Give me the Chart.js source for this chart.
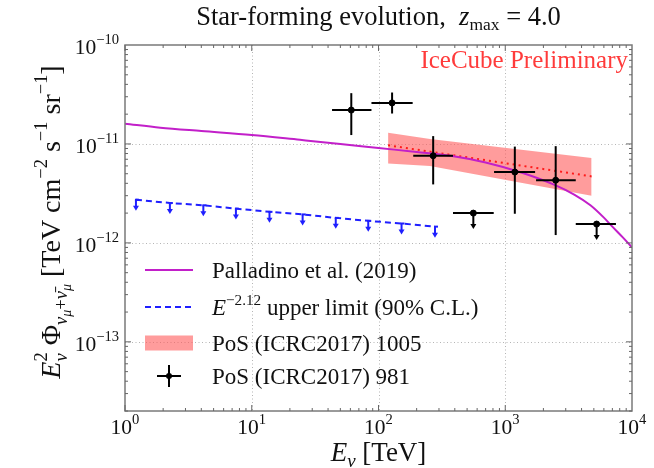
<!DOCTYPE html>
<html>
<head>
<meta charset="utf-8">
<script src="https://cdn.jsdelivr.net/npm/chart.js@4.4.1/dist/chart.umd.min.js"></script>
<style>
  html, body { margin: 0; padding: 0; background: #fff; }
</style>
</head>
<body>
<canvas id="myChart" width="654" height="468"></canvas>
<script>
// Palladino et al. (2019), star-forming evolution
const palE = [1, 1.9, 4, 10, 24, 50, 100, 200, 370, 700, 1300, 2400, 3500, 4700, 6000, 7000, 8500, 10000];
const palFlux = [1.6e-11, 1.46e-11, 1.35e-11, 1.23e-11, 1.1e-11, 1.0e-11, 9.1e-12, 8.3e-12, 7.6e-12, 6.5e-12, 5.2e-12, 3.9e-12, 3.08e-12, 2.4e-12, 1.8e-12, 1.46e-12, 1.13e-12, 9.0e-13];

// E^-2.12 upper limit (90% C.L.)
const ulE = [1.22, 2.26, 4.15, 7.5, 13.8, 25.2, 46, 83, 152, 279];
const ulFlux = [2.73e-12, 2.53e-12, 2.40e-12, 2.22e-12, 2.06e-12, 1.94e-12, 1.79e-12, 1.67e-12, 1.57e-12, 1.46e-12];

// PoS (ICRC2017) 1005 band and best fit
const bandE = [119, 255, 4800];
const bandHi = [1.3e-11, 1.12e-11, 7.2e-12];
const bandLo = [6.35e-12, 6.0e-12, 3.0e-12];
const fitE = [119, 4800];
const fitFlux = [9.7e-12, 4.7e-12];

// PoS (ICRC2017) 981 points
const ptE = [61, 128, 270, 560, 1190, 2500, 5260];
const ptELo = [43, 88, 188, 387, 816, 1750, 3600];
const ptEHi = [88, 186, 387, 811, 1720, 3600, 7470];
const ptFlux = [2.2e-11, 2.6e-11, 7.6e-12, 2.0e-12, 5.2e-12, 4.3e-12, 1.55e-12];
const ptFluxLo = [1.23e-11, 2.03e-11, 3.9e-12, null, 1.97e-12, 1.2e-12, null];
const ptFluxHi = [3.26e-11, 3.31e-11, 1.2e-11, null, 9.4e-12, 9.5e-12, null];
const ptUpper = [false, false, false, true, false, false, true];

// axes
const xTicks = [1, 10, 100, 1000, 10000];
const xTickExp = ['0', '1', '2', '3', '4'];
const yTicks = [1e-13, 1e-12, 1e-11, 1e-10];
const yTickExp = ['\u221213', '\u221212', '\u221211', '\u221210'];

const SERIF = '"Liberation Serif", "DejaVu Serif", serif';
const MAGENTA = '#c21fc9';
const BLUE = '#1f1fff';
const RED = '#ff1a1a';

function pts(xs, ys) {
    return xs.map((x, i) => ({x: x, y: ys[i]}));
}

// text with super/subscripts: {t, s: scale, r: rise (fraction of size), i: italic, k: stack on previous}
function richWidth(ctx, parts, size) {
    let x = 0, prev = 0;
    const items = parts.map(p => {
        const fs = size * (p.s || 1);
        ctx.font = (p.i ? 'italic ' : '') + fs + 'px ' + SERIF;
        const w = ctx.measureText(p.t).width;
        const px = p.k ? prev : x;
        prev = px;
        x = Math.max(x, px + w);
        return {p: p, fs: fs, px: px};
    });
    return {items: items, width: x};
}

function drawRich(ctx, parts, x, y, size, align, color) {
    const lay = richWidth(ctx, parts, size);
    let x0 = x;
    if (align === 'center') x0 = x - lay.width / 2;
    if (align === 'right') x0 = x - lay.width;
    ctx.fillStyle = color || '#111';
    ctx.textBaseline = 'alphabetic';
    ctx.textAlign = 'left';
    lay.items.forEach(it => {
        ctx.font = (it.p.i ? 'italic ' : '') + it.fs + 'px ' + SERIF;
        ctx.fillText(it.p.t, x0 + it.px, y - (it.p.r || 0) * size);
    });
}

function arrowDown(ctx, px, py, len, color) {
    ctx.strokeStyle = color;
    ctx.fillStyle = color;
    ctx.beginPath();
    ctx.moveTo(px, py);
    ctx.lineTo(px, py + len - 3);
    ctx.stroke();
    ctx.beginPath();
    ctx.moveTo(px - 3, py + len - 4);
    ctx.lineTo(px + 3, py + len - 4);
    ctx.lineTo(px, py + len + 1);
    ctx.closePath();
    ctx.fill();
}

const axesPlugin = {
    id: 'axesPlugin',
    beforeDatasetsDraw(chart) {
        const {ctx, chartArea: a, scales: {x, y}} = chart;
        ctx.save();
        ctx.strokeStyle = '#b5b5b5';
        ctx.lineWidth = 1;
        ctx.setLineDash([1, 2.5]);
        xTicks.slice(1, -1).forEach(v => {
            const px = Math.round(x.getPixelForValue(v)) + 0.5;
            ctx.beginPath(); ctx.moveTo(px, a.top); ctx.lineTo(px, a.bottom); ctx.stroke();
        });
        yTicks.slice(0, -1).forEach(v => {
            const py = Math.round(y.getPixelForValue(v)) + 0.5;
            ctx.beginPath(); ctx.moveTo(a.left, py); ctx.lineTo(a.right, py); ctx.stroke();
        });
        ctx.restore();
    },
    afterDatasetsDraw(chart) {
        const {ctx, scales: {x, y}} = chart;
        ctx.save();
        // error bars of ICRC2017 981
        ctx.lineWidth = 2;
        ctx.strokeStyle = '#000';
        ptE.forEach((e, i) => {
            const px = x.getPixelForValue(e);
            const py = y.getPixelForValue(ptFlux[i]);
            ctx.beginPath();
            ctx.moveTo(x.getPixelForValue(ptELo[i]), py);
            ctx.lineTo(x.getPixelForValue(ptEHi[i]), py);
            ctx.stroke();
            if (ptUpper[i]) {
                arrowDown(ctx, px, py, 15, '#000');
            } else {
                ctx.beginPath();
                ctx.moveTo(px, y.getPixelForValue(ptFluxHi[i]));
                ctx.lineTo(px, y.getPixelForValue(ptFluxLo[i]));
                ctx.stroke();
            }
        });
        // upper limit arrows
        ctx.lineWidth = 2;
        ulE.forEach((e, i) => {
            const px = x.getPixelForValue(e);
            const py = y.getPixelForValue(ulFlux[i]);
            ctx.strokeStyle = BLUE;
            ctx.beginPath(); ctx.moveTo(px - 1, py); ctx.lineTo(px + 3, py); ctx.stroke();
            arrowDown(ctx, px, py, 10, BLUE);
        });
        ctx.restore();
    },
    afterDraw(chart) {
        const {ctx, chartArea: a, scales: {x, y}} = chart;
        ctx.save();
        // frame
        ctx.strokeStyle = '#7a7a7a';
        ctx.lineWidth = 1.5;
        ctx.strokeRect(a.left, a.top, a.right - a.left, a.bottom - a.top);
        // tick marks, inward on all sides
        ctx.lineWidth = 1;
        ctx.strokeStyle = '#666';
        for (let d = 0; d < 4; d++) {
            for (let m = 1; m <= 9; m++) {
                const px = x.getPixelForValue(m * Math.pow(10, d));
                const len = m === 1 ? 6 : 3;
                ctx.beginPath();
                ctx.moveTo(px, a.bottom); ctx.lineTo(px, a.bottom - len);
                ctx.moveTo(px, a.top); ctx.lineTo(px, a.top + len);
                ctx.stroke();
            }
        }
        for (let d = -14; d < -10; d++) {
            for (let m = 1; m <= 9; m++) {
                const v = m * Math.pow(10, d);
                if (v < y.min) continue;
                const py = y.getPixelForValue(v);
                const len = m === 1 ? 6 : 3;
                ctx.beginPath();
                ctx.moveTo(a.left, py); ctx.lineTo(a.left + len, py);
                ctx.moveTo(a.right, py); ctx.lineTo(a.right - len, py);
                ctx.stroke();
            }
        }
        // tick labels
        xTicks.forEach((v, i) => {
            drawRich(ctx, [{t: '10'}, {t: xTickExp[i], s: 0.68, r: 0.45}], x.getPixelForValue(v), a.bottom + 23, 21.5, 'center');
        });
        yTicks.forEach((v, i) => {
            drawRich(ctx, [{t: '10'}, {t: yTickExp[i], s: 0.68, r: 0.45}], a.left - 6, y.getPixelForValue(v) + 9, 21.5, 'right');
        });
        // axis titles
        drawRich(ctx, [{t: 'E', i: true}, {t: '\u03bd', i: true, s: 0.7, r: -0.22}, {t: ' [TeV]'}], (a.left + a.right) / 2, 461, 27, 'center');
        ctx.save();
        ctx.translate(60, 222);
        ctx.rotate(-Math.PI / 2);
        drawRich(ctx, [
            {t: 'E', i: true}, {t: '2', s: 0.66, r: 0.45}, {t: '\u03bd', i: true, s: 0.66, r: -0.25, k: true},
            {t: ' \u03a6'}, {t: '\u03bd', i: true, s: 0.66, r: -0.25}, {t: '\u03bc', i: true, s: 0.5, r: -0.4},
            {t: '+', s: 0.66, r: -0.25}, {t: '\u03bd\u0304', i: true, s: 0.66, r: -0.25}, {t: '\u03bc', i: true, s: 0.5, r: -0.4},
            {t: ' [TeV cm'}, {t: '\u22122', s: 0.66, r: 0.45}, {t: ' s'}, {t: '\u22121', s: 0.66, r: 0.45},
            {t: ' sr'}, {t: '\u22121', s: 0.66, r: 0.45}, {t: ']'}
        ], 0, 0, 28, 'center');
        ctx.restore();
        // title
        drawRich(ctx, [{t: 'Star-forming evolution,  '}, {t: 'z', i: true}, {t: 'max', s: 0.66, r: -0.2}, {t: ' = 4.0'}], (a.left + a.right) / 2, 25, 26.5, 'center');
        // IceCube Preliminary
        drawRich(ctx, [{t: 'IceCube Preliminary'}], a.right - 4, 68, 25, 'right', '#ff3b3b');
        // legend
        const lx0 = 145, lx1 = 193, tx = 212;
        const rows = [270, 307, 343, 376];
        ctx.setLineDash([]);
        ctx.lineWidth = 2;
        ctx.strokeStyle = MAGENTA;
        ctx.beginPath(); ctx.moveTo(lx0, rows[0]); ctx.lineTo(lx1, rows[0]); ctx.stroke();
        ctx.strokeStyle = BLUE;
        ctx.setLineDash([6, 4]);
        ctx.beginPath(); ctx.moveTo(lx0, rows[1]); ctx.lineTo(lx1, rows[1]); ctx.stroke();
        ctx.setLineDash([]);
        ctx.fillStyle = 'rgba(255,90,90,0.6)';
        ctx.fillRect(lx0, rows[2] - 7.5, lx1 - lx0, 15);
        ctx.strokeStyle = '#000';
        ctx.beginPath();
        ctx.moveTo(157, rows[3]); ctx.lineTo(181, rows[3]);
        ctx.moveTo(169, rows[3] - 11); ctx.lineTo(169, rows[3] + 11);
        ctx.stroke();
        ctx.fillStyle = '#000';
        ctx.beginPath(); ctx.arc(169, rows[3], 3, 0, Math.PI * 2); ctx.fill();
        drawRich(ctx, [{t: 'Palladino et al. (2019)'}], tx, rows[0] + 8, 23, 'left');
        drawRich(ctx, [{t: 'E', i: true}, {t: '\u22122.12', s: 0.66, r: 0.45}, {t: ' upper limit (90% C.L.)'}], tx, rows[1] + 8, 23, 'left');
        drawRich(ctx, [{t: 'PoS (ICRC2017) 1005'}], tx, rows[2] + 8, 23, 'left');
        drawRich(ctx, [{t: 'PoS (ICRC2017) 981'}], tx, rows[3] + 8, 23, 'left');
        ctx.restore();
    }
};

const data = {
    datasets: [
        {
            label: 'Palladino et al. (2019)',
            data: pts(palE, palFlux),
            borderColor: MAGENTA,
            borderWidth: 2,
            pointRadius: 0,
            cubicInterpolationMode: 'monotone',
            order: 1
        },
        {
            label: 'E^-2.12 upper limit (90% C.L.)',
            data: pts(ulE, ulFlux),
            borderColor: BLUE,
            borderWidth: 2,
            borderDash: [6, 4],
            pointRadius: 0,
            order: 2
        },
        {
            label: 'PoS (ICRC2017) 1005',
            data: pts(bandE, bandHi),
            borderColor: 'rgba(0,0,0,0)',
            borderWidth: 0,
            pointRadius: 0,
            fill: '+1',
            backgroundColor: 'rgba(255,90,90,0.6)',
            order: 6
        },
        {
            label: 'band low',
            data: pts(bandE, bandLo),
            borderColor: 'rgba(0,0,0,0)',
            borderWidth: 0,
            pointRadius: 0,
            order: 6
        },
        {
            label: 'best fit',
            data: pts(fitE, fitFlux),
            borderColor: RED,
            borderWidth: 2,
            borderDash: [2, 4],
            pointRadius: 0,
            order: 3
        },
        {
            label: 'PoS (ICRC2017) 981',
            data: pts(ptE, ptFlux),
            showLine: false,
            pointRadius: 3,
            pointBackgroundColor: '#000',
            pointBorderColor: '#000',
            order: 0
        }
    ]
};

const config = {
    type: 'line',
    data: data,
    options: {
        responsive: false,
        animation: false,
        layout: {padding: {left: 125, right: 22, top: 45, bottom: 57}},
        scales: {
            x: {type: 'logarithmic', min: 1, max: 10000, display: false},
            y: {type: 'logarithmic', min: 2e-14, max: 1e-10, display: false}
        },
        plugins: {
            legend: {display: false},
            tooltip: {enabled: false}
        }
    },
    plugins: [axesPlugin]
};

const myChart = new Chart(document.getElementById('myChart'), config);
</script>
</body>
</html>
